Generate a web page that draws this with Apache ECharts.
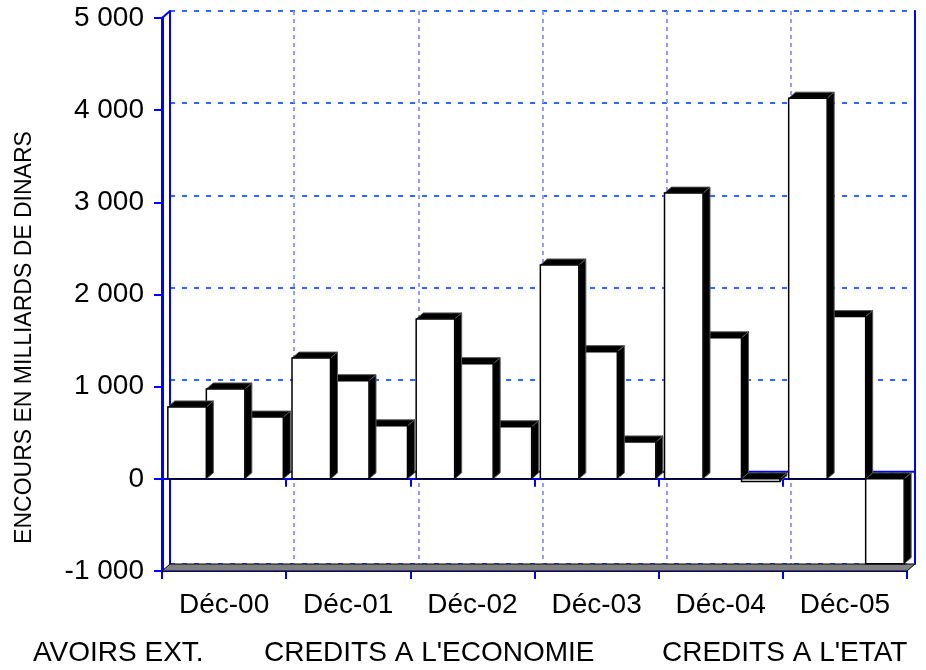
<!DOCTYPE html>
<html>
<head>
<meta charset="utf-8">
<script src="https://cdn.jsdelivr.net/npm/echarts@6/dist/echarts.min.js"></script>
<style>html,body{margin:0;padding:0;background:#fff;}#c{width:926px;height:670px;}</style>
</head>
<body>
<div id="c"></div>
<script>
var categories = ['Déc-00', 'Déc-01', 'Déc-02', 'Déc-03', 'Déc-04', 'Déc-05'];
var seriesNames = ['AVOIRS EXT.', 'CREDITS A L\'ECONOMIE', 'CREDITS A L\'ETAT'];
var avoirsExt = [780, 1310, 1735, 2320, 3100, 4130];
var creditsEconomie = [975, 1065, 1250, 1380, 1530, 1760];
var creditsEtat = [670, 575, 565, 400, -30, -920];
var yMin = -1000, yMax = 5000, yStep = 1000;
var yAxisTitle = 'ENCOURS EN MILLIARDS DE DINARS';

var FONT = '"Liberation Sans", Arial, sans-serif';
var DX = 7, DY = -6;          // bar depth offset
var WALL_DX = 8, WALL_DY = -7; // back wall offset
var BLUE = '#0000ff';

function fmt(v) {
  var s = String(Math.abs(v)).replace(/\B(?=(\d{3})+(?!\d))/g, ' ');
  return (v < 0 ? '-' : '') + s;
}

function barSeries(k, name, values) {
  return {
    type: 'custom',
    name: name,
    xAxisIndex: 0,
    yAxisIndex: 0,
    z: 10 - k,
    itemStyle: {color: '#ffffff'},
    data: values.map(function (v, i) { return [i, v]; }),
    renderItem: function (params, api) {
      var i = api.value(0), v = api.value(1);
      var base = api.coord([i, 0]);
      var top = api.coord([i, v]);
      var cw = api.size([1, 0])[0];
      var bw = cw * 0.31;
      var x0 = base[0] - 1.5 * bw + 1.5 + k * bw;
      var x1 = x0 + bw;
      var yT = Math.min(base[1], top[1]);
      var yB = Math.max(base[1], top[1]);
      return {
        type: 'group',
        children: [
          {type: 'polygon', shape: {points: [[x1, yT], [x1 + DX, yT + DY], [x1 + DX, yB + DY], [x1, yB]]},
           style: {fill: '#000000', stroke: '#555555', lineWidth: 1}},
          {type: 'polygon', shape: {points: [[x0, yT], [x0 + DX, yT + DY], [x1 + DX, yT + DY], [x1, yT]]},
           style: {fill: '#000000', stroke: '#555555', lineWidth: 1}},
          {type: 'rect', shape: {x: x0, y: yT, width: bw, height: yB - yT},
           style: {fill: '#ffffff', stroke: '#000000', lineWidth: 1.5}}
        ]
      };
    }
  };
}

var decor = {
  type: 'custom',
  name: 'decor',
  xAxisIndex: 0,
  yAxisIndex: 0,
  z: 1,
  silent: true,
  data: [[0, yMin]],
  renderItem: function (params, api) {
    var cs = params.coordSys;
    var yb = cs.y + cs.height, xl = cs.x, xr = cs.x + cs.width, yt = cs.y;
    var y0 = api.coord([0, 0])[1];
    return {
      type: 'group',
      children: [
        {type: 'line', shape: {x1: xl + WALL_DX, y1: y0 + WALL_DY, x2: xr + WALL_DX, y2: y0 + WALL_DY},
         style: {stroke: BLUE, lineWidth: 2}},
        {type: 'polygon', shape: {points: [[xl, yb], [xl + WALL_DX, yb + WALL_DY], [xr + WALL_DX, yb + WALL_DY], [xr, yb]]},
         style: {fill: '#808080', stroke: '#000000', lineWidth: 1}},
        {type: 'line', shape: {x1: xl, y1: yt, x2: xl + WALL_DX, y2: yt + WALL_DY},
         style: {stroke: BLUE, lineWidth: 2}}
      ]
    };
  }
};

var legendText = {fontSize: 28, color: '#000', fontFamily: FONT};
var chart = echarts.init(document.getElementById('c'));
chart.setOption({
  backgroundColor: '#ffffff',
  animation: false,
  textStyle: {fontFamily: FONT},
  grid: [
    {left: 162, right: 19, top: 18, bottom: 99},
    {left: 162 + WALL_DX, right: 19 - WALL_DX, top: 18 + WALL_DY, bottom: 99 - WALL_DY}
  ],
  legend: [
    {data: [seriesNames[0]], left: 28, top: 639, padding: 0, icon: 'none', itemWidth: 0, itemGap: 0,
     textStyle: legendText, selectedMode: false},
    {data: [seriesNames[1]], left: 259, top: 639, padding: 0, icon: 'none', itemWidth: 0, itemGap: 0,
     textStyle: legendText, selectedMode: false},
    {data: [seriesNames[2]], left: 657, top: 639, padding: 0, icon: 'none', itemWidth: 0, itemGap: 0,
     textStyle: legendText, selectedMode: false}
  ],
  xAxis: [
    {type: 'category', gridIndex: 0, data: categories, position: 'bottom',
     axisLine: {onZero: false, lineStyle: {color: BLUE, width: 2}},
     axisTick: {show: true, length: 8, lineStyle: {color: BLUE, width: 2}},
     axisLabel: {fontSize: 28, color: '#000', margin: 20, fontFamily: FONT},
     splitLine: {show: false}},
    {type: 'category', gridIndex: 0, data: categories, position: 'bottom',
     axisLine: {onZero: true, onZeroAxisIndex: 0, lineStyle: {color: BLUE, width: 2}},
     axisTick: {show: true, length: 8, lineStyle: {color: BLUE, width: 2}},
     axisLabel: {show: false},
     splitLine: {show: false}},
    {type: 'category', gridIndex: 1, data: categories, position: 'bottom',
     axisLine: {show: false},
     axisTick: {show: false}, axisLabel: {show: false},
     splitLine: {show: true, lineStyle: {color: '#9999ff', width: 2, type: [4, 4]}}}
  ],
  yAxis: [
    {type: 'value', gridIndex: 0, min: yMin, max: yMax, interval: yStep,
     name: yAxisTitle, nameLocation: 'middle', nameRotate: 90, nameGap: 126,
     nameTextStyle: {fontSize: 23, color: '#000', fontFamily: FONT, padding: [0, 86, 0, 0]},
     axisLine: {show: true, lineStyle: {color: BLUE, width: 3}},
     axisTick: {show: true, length: 8, lineStyle: {color: BLUE, width: 2}},
     axisLabel: {fontSize: 28, color: '#000', margin: 18, fontFamily: FONT, formatter: fmt},
     splitLine: {show: false}},
    {type: 'value', gridIndex: 1, min: yMin, max: yMax, interval: yStep,
     axisLine: {show: true, lineStyle: {color: BLUE, width: 2}},
     axisTick: {show: false}, axisLabel: {show: false},
     splitLine: {show: true, lineStyle: {color: '#3366ff', width: 2, type: [5, 7]}}},
    {type: 'value', gridIndex: 1, min: yMin, max: yMax, interval: yStep, position: 'right',
     axisLine: {show: true, lineStyle: {color: BLUE, width: 2}},
     axisTick: {show: false}, axisLabel: {show: false}, splitLine: {show: false}}
  ],
  series: [
    decor,
    barSeries(0, seriesNames[0], avoirsExt),
    barSeries(1, seriesNames[1], creditsEconomie),
    barSeries(2, seriesNames[2], creditsEtat)
  ]
});
</script>
</body>
</html>
